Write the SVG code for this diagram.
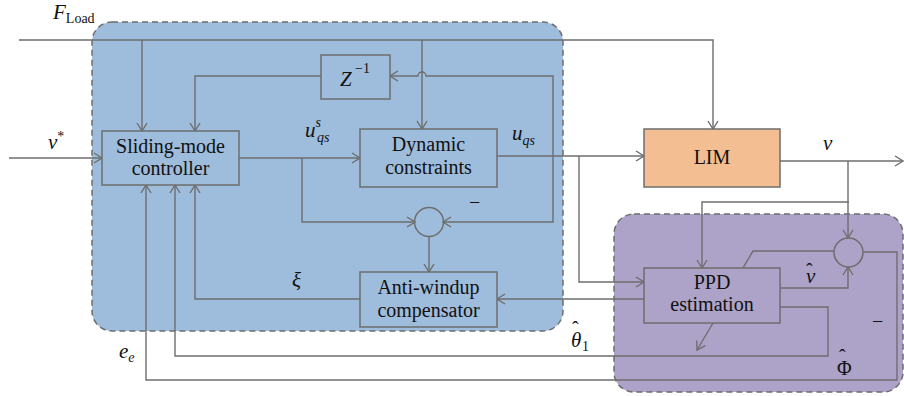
<svg xmlns="http://www.w3.org/2000/svg" width="904" height="396" viewBox="0 0 904 396">
<style>
.grp{stroke:#6e6e6e;stroke-width:1.5;stroke-dasharray:6 4}
.box{stroke:#6e6e6e;stroke-width:1.5}
.ln{fill:none;stroke:#6e6e6e;stroke-width:1.4}
text{font-family:"Liberation Serif","DejaVu Serif",serif;fill:#111}
.t{font-size:20px}
.m{font-size:21px;font-style:italic}
.s{font-size:14px}
.si{font-size:14px;font-style:italic}
.hat{font-size:20px;font-style:normal}
.sub{font-size:14px;font-style:normal}
</style>
<defs>
<marker id="arr" markerWidth="10" markerHeight="12" refX="9" refY="6" orient="auto" markerUnits="userSpaceOnUse">
<path d="M1,1 L9,6 L1,11" fill="none" stroke="#6e6e6e" stroke-width="1.4"/>
</marker>
</defs>
<rect width="904" height="396" fill="#fff"/>
<g id="controller-group">
<rect class="grp" x="92" y="22" width="471" height="309" rx="20" fill="#9ebcdb"/>
</g>
<g id="estimator-group">
<rect class="grp" x="614" y="214" width="289" height="178" rx="20" fill="#ada3c8"/>
</g>
<g id="connectors">
<path class="ln" d="M19,40 H713 V129" marker-end="url(#arr)"/>
<path class="ln" d="M142,40 V131" marker-end="url(#arr)"/>
<path class="ln" d="M422,40 V129" marker-end="url(#arr)"/>
<path class="ln" d="M321,76 H195 V131" marker-end="url(#arr)"/>
<path class="ln" d="M553,156 V76 H426 a4,4 0 0 0 -8,0 H390" marker-end="url(#arr)"/>
<path class="ln" d="M553,156 V222 H443" marker-end="url(#arr)"/>
<path class="ln" d="M9,158 H102" marker-end="url(#arr)"/>
<path class="ln" d="M239,158 H360" marker-end="url(#arr)"/>
<path class="ln" d="M302,158 V222 H415" marker-end="url(#arr)"/>
<path class="ln" d="M429,236 V272" marker-end="url(#arr)"/>
<path class="ln" d="M497,156 H644" marker-end="url(#arr)"/>
<path class="ln" d="M579,156 V282 H644" marker-end="url(#arr)"/>
<path class="ln" d="M644,299 H497" marker-end="url(#arr)"/>
<path class="ln" d="M360,299 H195 V185" marker-end="url(#arr)"/>
<path class="ln" d="M780,161 H903" marker-end="url(#arr)"/>
<path class="ln" d="M848,161 V238" marker-end="url(#arr)"/>
<path class="ln" d="M849,202 H702 V268" marker-end="url(#arr)"/>
<path class="ln" d="M743,268 L753,251 H834"/>
<path class="ln" d="M780,288 H848 V267" marker-end="url(#arr)"/>
<path class="ln" d="M863,252 H897 V380 H146 V185" marker-end="url(#arr)"/>
<path class="ln" d="M780,307 H828 V356 H175 V185" marker-end="url(#arr)"/>
<path class="ln" d="M713,323 L697,350" marker-end="url(#arr)"/>
</g>
<g id="smc">
<rect class="box" x="102" y="131" width="137" height="54" fill="#9ebcdb"/>
<text class="t" x="170.5" y="153" text-anchor="middle">Sliding-mode</text>
<text class="t" x="170.5" y="175" text-anchor="middle">controller</text>
</g>
<g id="zinv">
<rect class="box" x="321" y="55" width="69" height="44" fill="#9ebcdb"/>
<text class="m" x="340" y="86">Z</text>
<text class="s" x="355" y="73">−1</text>
</g>
<g id="dyn">
<rect class="box" x="360" y="129" width="137" height="58" fill="#9ebcdb"/>
<text class="t" x="428.5" y="151" text-anchor="middle">Dynamic</text>
<text class="t" x="428.5" y="174" text-anchor="middle">constraints</text>
</g>
<g id="sum1">
<circle class="box" cx="429" cy="222" r="14.5" fill="none"/>
</g>
<g id="aw">
<rect class="box" x="360" y="272" width="137" height="55" fill="#9ebcdb"/>
<text class="t" x="428.5" y="294" text-anchor="middle">Anti-windup</text>
<text class="t" x="428.5" y="317" text-anchor="middle">compensator</text>
</g>
<g id="lim">
<rect class="box" x="644" y="129" width="136" height="58" fill="#f2be92"/>
<text class="t" x="712" y="164" text-anchor="middle">LIM</text>
</g>
<g id="ppd">
<rect class="box" x="644" y="268" width="136" height="55" fill="#ada3c8"/>
<text class="t" x="712" y="289" text-anchor="middle">PPD</text>
<text class="t" x="712" y="311" text-anchor="middle">estimation</text>
</g>
<g id="sum2">
<circle class="box" cx="848.5" cy="252.5" r="14.5" fill="none"/>
</g>
<g id="labels">
<text class="m" x="53" y="19">F<tspan class="sub" dy="4">Load</tspan></text>
<text class="m" x="48" y="149">v<tspan class="sub" dy="-8">*</tspan></text>
<text class="m" x="305" y="137">u<tspan class="si" dy="-10">s</tspan><tspan class="si" x="317" dy="15">qs</tspan></text>
<text class="m" x="512" y="140">u<tspan class="si" dy="5">qs</tspan></text>
<text class="m" x="823" y="150">v</text>
<text class="m" x="806" y="283">v<tspan class="hat" x="806" dy="-5">ˆ</tspan></text>
<text class="m" x="292" y="287">ξ</text>
<text class="m" x="119" y="358">e<tspan class="si" dy="4">e</tspan></text>
<text class="m" x="571" y="347">θ<tspan class="hat" x="572" dy="-11">ˆ</tspan><tspan class="sub" x="582" dy="15">1</tspan></text>
<text class="t" x="837" y="375">Φ<tspan class="hat" x="839" dy="-11">ˆ</tspan></text>
<text class="t" x="469" y="209">−</text>
<text class="t" x="872" y="328">−</text>
</g>
</svg>
